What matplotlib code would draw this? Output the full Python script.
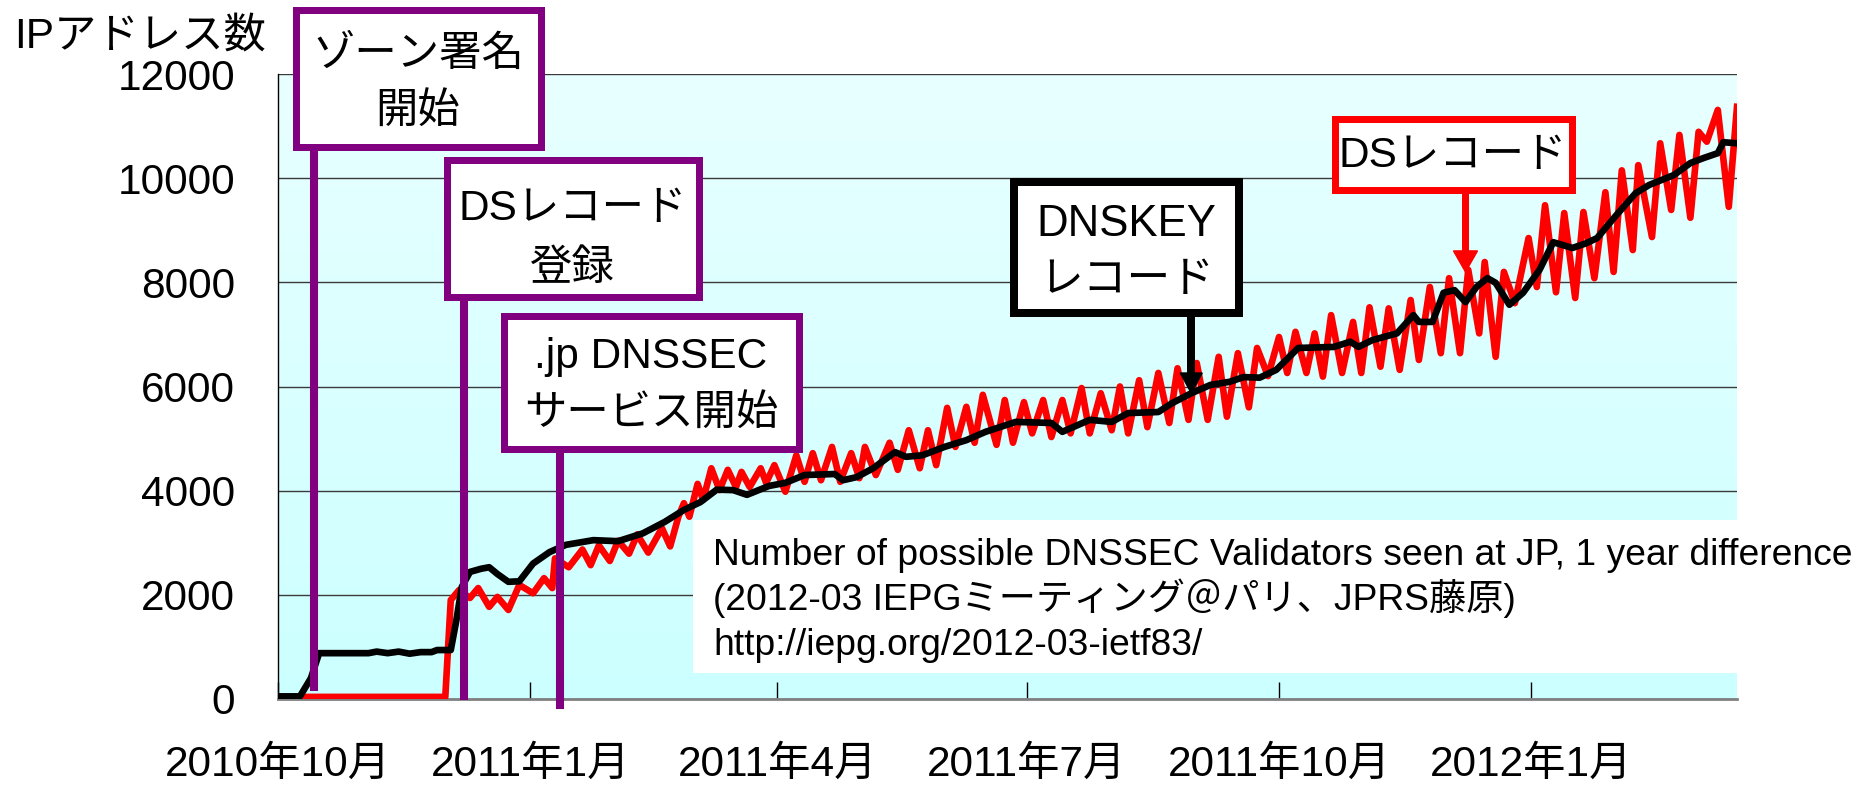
#!/usr/bin/env python3
"""Number of possible DNSSEC validators seen at JP (DS vs DNSKEY), Oct 2010 - Mar 2012."""
import numpy as np
import pandas as pd
import matplotlib
matplotlib.use("Agg")
import matplotlib.pyplot as plt
import matplotlib.dates as mdates
from matplotlib.colors import LinearSegmentedColormap
from matplotlib.patches import Rectangle, Polygon
from matplotlib.lines import Line2D

plt.rcParams["font.family"] = ["Liberation Sans", "Noto Sans CJK JP"]

# ---- data (days since 2010-10-01, IP address counts) ----
START = pd.Timestamp("2010-10-01")
END_DAY = 532

ds_days = [0, 61, 63, 66, 70, 73, 77, 80, 84, 88, 93, 97, 100, 101, 106, 111, 114,
           117, 121, 124, 128, 131, 135, 140, 143, 146, 148, 150, 153, 155, 158,
           161, 164, 167, 169, 172, 176, 178, 181, 185, 189, 192, 195, 198, 202,
           205, 209, 212, 214, 218, 223, 226, 230, 234, 237, 240, 244, 247, 251,
           254, 257, 262, 265, 268, 272, 275, 279, 282, 286, 289, 293, 296, 300,
           304, 307, 310, 314, 317, 321, 325, 328, 332, 335, 339, 343, 346, 350,
           354, 357, 361, 365, 368, 371, 375, 378, 381, 384, 388, 392, 395, 398,
           402, 405, 409, 413, 416, 420, 424, 427, 431, 434, 438, 440, 444, 447,
           451, 456, 459, 462, 466, 469, 473, 476, 480, 484, 487, 490, 494, 496,
           501, 504, 508, 511, 515, 518, 521, 525, 529, 532]
ds_vals = [40, 40, 1900, 2090, 1940, 2130, 1770, 1960, 1710, 2190, 2030, 2320, 2130,
           2700, 2530, 2870, 2570, 2950, 2650, 3040, 2790, 3160, 2810, 3280, 2930,
           3500, 3760, 3500, 4130, 3820, 4430, 4010, 4400, 4070, 4360, 4070, 4430,
           4150, 4490, 3980, 4680, 4170, 4720, 4200, 4840, 4170, 4720, 4240, 4840,
           4300, 4920, 4400, 5160, 4430, 5160, 4490, 5590, 4840, 5610, 4920, 5840,
           4880, 5740, 4920, 5700, 5100, 5740, 5030, 5740, 5100, 5970, 5100, 5870,
           5160, 6000, 5100, 6120, 5220, 6260, 5300, 6350, 5360, 6450, 5360, 6570,
           5420, 6640, 5600, 6740, 6200, 6950, 6260, 7050, 6260, 7020, 6190, 7370,
           6260, 7240, 6260, 7520, 6380, 7500, 6320, 7660, 6510, 7910, 6640, 8080,
           6640, 8240, 7020, 8390, 6570, 8200, 7600, 8850, 7910, 9480, 7810, 9330,
           7700, 9350, 8080, 9730, 8200, 10150, 8620, 10250, 8870, 10670, 9390,
           10830, 9240, 10890, 10700, 11310, 9450, 11370]

dnskey_days = [0, 8, 12, 15, 33, 36, 40, 44, 48, 52, 56, 58, 63, 65, 67, 70, 74, 77,
               80, 84, 88, 93, 99, 105, 115, 124, 133, 141, 148, 154, 160, 166, 171,
               179, 185, 192, 203, 206, 211, 217, 225, 229, 235, 243, 251, 258, 269,
               282, 286, 296, 304, 310, 321, 326, 333, 340, 347, 352, 358, 364, 372,
               385, 391, 394, 399, 408, 414, 416, 421, 425, 429, 433, 437, 441, 444,
               449, 454, 460, 465, 472, 477, 481, 488, 495, 500, 509, 515, 520, 525,
               527, 532]
dnskey_vals = [50, 50, 400, 880, 880, 910, 880, 910, 870, 900, 900, 940, 940, 1500,
               2150, 2440, 2500, 2530, 2400, 2250, 2260, 2600, 2820, 2960, 3050, 3030,
               3180, 3400, 3630, 3780, 4020, 4010, 3920, 4090, 4150, 4300, 4320, 4200,
               4260, 4430, 4740, 4650, 4680, 4840, 4970, 5130, 5320, 5300, 5130, 5360,
               5320, 5490, 5510, 5680, 5870, 6030, 6090, 6180, 6170, 6320, 6740, 6760,
               6860, 6760, 6890, 7020, 7370, 7240, 7240, 7800, 7850, 7620, 7910, 8080,
               7990, 7570, 7800, 8240, 8770, 8660, 8750, 8850, 9290, 9710, 9870, 10060,
               10290, 10390, 10480, 10690, 10670]

tick_dates = ["2010-10-01", "2011-01-01", "2011-04-01", "2011-07-01",
              "2011-10-01", "2012-01-01"]
tick_labels = ["2010年10月", "2011年1月", "2011年4月", "2011年7月",
               "2011年10月", "2012年1月"]

events = ["2010-10-14", "2010-12-08", "2011-01-12"]
event_labels = [["ゾーン署名", "開始"], ["DSレコード", "登録"],
                [".jp DNSSEC", "サービス開始"]]

source_lines = ["Number of possible DNSSEC Validators seen at JP, 1 year difference",
                "(2012-03 IEPGミーティング＠パリ、JPRS藤原)",
                "http://iepg.org/2012-03-ietf83/"]

# ---- layout helpers (pixel coords from top-left) ----
W, H = 1866, 787


def fx(x):
    return x / W


def fy(y):
    return 1 - y / H


fig = plt.figure(figsize=(W / 100, H / 100), dpi=100)
rect = [fx(278), fy(699), fx(1737) - fx(278), fy(74) - fy(699)]

bg = fig.add_axes(rect, zorder=0)
cmap = LinearSegmentedColormap.from_list("bgcyan", ["#E8FFFF", "#CCFFFF"])
bg.imshow(np.linspace(0, 1, 256)[:, None], cmap=cmap, aspect="auto",
          extent=[0, 1, 0, 1])
bg.axis("off")

ax = fig.add_axes(rect, zorder=1)
ax.patch.set_alpha(0)

ds_x = START + pd.to_timedelta(ds_days, unit="D")
dk_x = START + pd.to_timedelta(dnskey_days, unit="D")
ax.plot(ds_x, ds_vals, color="#FF0000", lw=4.8, solid_joinstyle="round", zorder=3)
ax.plot(dk_x, dnskey_vals, color="black", lw=4.8, solid_joinstyle="round",
        solid_capstyle="round", zorder=4)

ax.set_xlim(START, START + pd.Timedelta(days=END_DAY))
ax.set_ylim(0, 12000)
ax.set_yticks(range(0, 12001, 2000))
ax.yaxis.grid(True, color="#3a3a3a", lw=1.0)
ax.set_axisbelow(True)
ax.set_xticks([mdates.date2num(pd.Timestamp(d)) for d in tick_dates])
ax.set_xticklabels(tick_labels)
ax.tick_params(axis="x", direction="in", length=12, width=1, pad=33,
               labelsize=30.5, colors="black")
ax.tick_params(axis="y", length=0, pad=31, labelsize=30.5)
for s in ["top", "right"]:
    ax.spines[s].set_visible(False)
ax.spines["left"].set_linewidth(1.0)
ax.spines["bottom"].set_color("#808080")
ax.spines["bottom"].set_linewidth(2.0)

fig.text(fx(14), fy(37), "IPアドレス数", fontsize=30.5, ha="left", va="center")


def date_px(d):
    return ax.transData.transform((mdates.date2num(pd.Timestamp(d)), 0))[0]


def box(x0, y0, x1, y1, lw_px, color, lines, line_ys, size=30.5):
    h = lw_px / 2
    fig.add_artist(Rectangle((fx(x0 + h), fy(y1 - h)), fx(x1 - x0 - lw_px),
                             (y1 - y0 - lw_px) / H, transform=fig.transFigure,
                             facecolor="white", edgecolor=color,
                             lw=lw_px * 0.72, zorder=10))
    for t, yy in zip(lines, line_ys):
        fig.text(fx((x0 + x1) / 2), fy(yy), t, fontsize=size, ha="center",
                 va="center", zorder=11)


purple = "#800080"
boxes = [(292, 6, 544, 150, [55, 112]),
         (443, 157, 702, 300, [209, 269]),
         (500, 312, 802, 452, [357, 414])]
line_ends = [691, 700, 709]
for d, (x0, y0, x1, y1, ys), lab, yend in zip(events, boxes, event_labels, line_ends):
    xp = date_px(d)
    fig.add_artist(Line2D([fx(xp), fx(xp)], [fy(y1), fy(yend)],
                          transform=fig.transFigure, color=purple, lw=5.8,
                          solid_capstyle="butt", zorder=9))
    box(x0, y0, x1, y1, 7, purple, lab, ys)


def arrow(d, val, ytop, color, lw_px, head_w, head_l):
    xp = date_px(d)
    ytip = H - ax.transData.transform((0, val))[1]
    fig.add_artist(Line2D([fx(xp), fx(xp)], [fy(ytop), fy(ytip - head_l + 2)],
                          transform=fig.transFigure, color=color, lw=lw_px * 0.72,
                          solid_capstyle="butt", zorder=9))
    fig.add_artist(Polygon([(fx(xp - head_w / 2), fy(ytip - head_l)),
                            (fx(xp + head_w / 2), fy(ytip - head_l)),
                            (fx(xp), fy(ytip))], closed=True,
                           transform=fig.transFigure, color=color, zorder=9))


arrow("2011-08-30", 5875, 310, "black", 8, 22, 20)
box(1010, 178, 1243, 317, 8, "black", ["DNSKEY", "レコード"], [224, 281], 31.5)
arrow("2011-12-08", 8200, 188, "#FF0000", 7, 24, 21)
box(1331, 115, 1575, 193, 7, "#FF0000", ["DSレコード"], [156])

# source note
fig.add_artist(Rectangle((fx(693), fy(673)), fx(1737 - 693), (673 - 520) / H,
                         transform=fig.transFigure, facecolor="white",
                         edgecolor="none", zorder=5))
for t, yb in zip(source_lines, [565, 610, 655]):
    fig.text(fx(713), fy(yb), t, fontsize=26.8, ha="left", va="baseline", zorder=6)

fig.savefig("out.png", dpi=100)
plt.close(fig)
